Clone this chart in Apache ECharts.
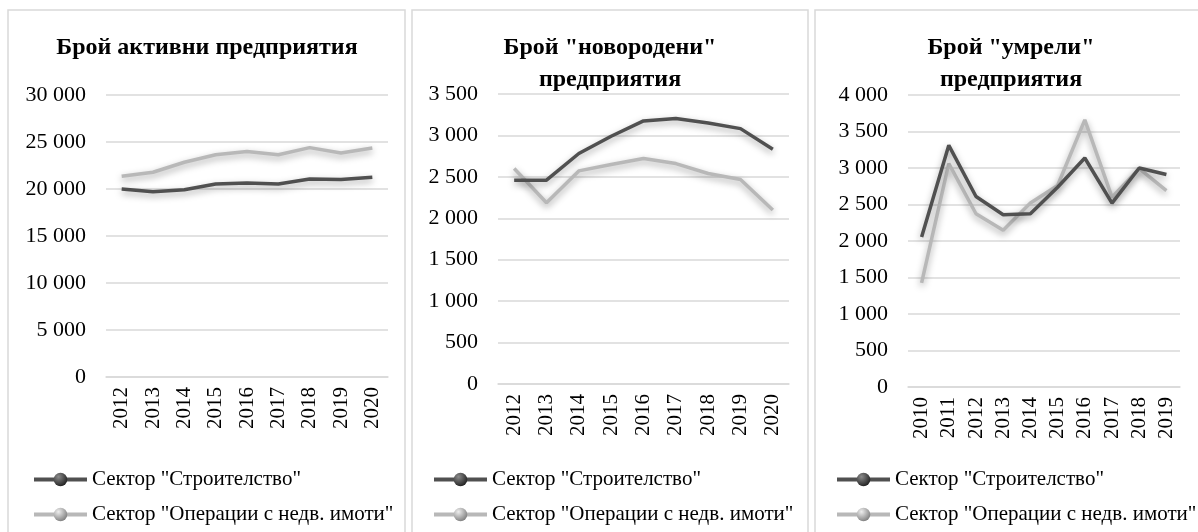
<!DOCTYPE html>
<html>
<head>
<meta charset="utf-8">
<script src="https://cdn.jsdelivr.net/npm/echarts@6/dist/echarts.min.js"></script>
<style>
  html, body { margin: 0; padding: 0; background: #fff; }
  #chart { width: 1198px; height: 532px; }
</style>
</head>
<body>
<div id="chart"></div>
<script>
// panel data
var yearsActive = ['2012', '2013', '2014', '2015', '2016', '2017', '2018', '2019', '2020'];
var activeBuild = [20000, 19710, 19930, 20540, 20640, 20540, 21070, 21000, 21250];
var activeRealty = [21350, 21780, 22850, 23650, 24000, 23650, 24400, 23820, 24360];

var yearsBorn = ['2012', '2013', '2014', '2015', '2016', '2017', '2018', '2019', '2020'];
var bornBuild = [2460, 2460, 2782, 2990, 3175, 3203, 3150, 3082, 2834];
var bornRealty = [2600, 2187, 2572, 2650, 2722, 2660, 2540, 2468, 2100];

var yearsDead = ['2010', '2011', '2012', '2013', '2014', '2015', '2016', '2017', '2018', '2019'];
var deadBuild = [2055, 3310, 2610, 2360, 2373, 2736, 3137, 2518, 3000, 2910];
var deadRealty = [1426, 3060, 2373, 2146, 2520, 2760, 3660, 2600, 2990, 2690];

var seriesNames = ['Сектор "Строителство"', 'Сектор "Операции с недв. имоти"'];
var titles = ['Брой активни предприятия', 'Брой "новородени"\nпредприятия', 'Брой "умрели"\nпредприятия'];

var darkColor = '#505050';
var lightColor = '#b8b8b8';
var font = '"Liberation Serif", "DejaVu Serif", serif';

function sphere(c1, c2) {
    return new echarts.graphic.RadialGradient(0.35, 0.3, 0.7, [
        {offset: 0, color: c1},
        {offset: 1, color: c2}
    ]);
}

function fmt(v) {
    return String(v).replace(/\B(?=(\d{3})+(?!\d))/g, ' ');
}

var panels = [
    {cats: yearsActive, a: activeBuild, b: activeRealty, max: 30000, step: 5000,
     grid: {left: 106, top: 95, width: 282, height: 282}, tx: 207, box: [8, 405], legendX: 32},
    {cats: yearsBorn, a: bornBuild, b: bornRealty, max: 3500, step: 500,
     grid: {left: 498, top: 94, width: 291, height: 290}, tx: 610, box: [412, 808], legendX: 432},
    {cats: yearsDead, a: deadBuild, b: deadRealty, max: 4000, step: 500,
     grid: {left: 908, top: 95, width: 272, height: 292}, tx: 1011, box: [815, 1210], legendX: 835}
];

var option = {
    backgroundColor: '#fff',
    animation: false,
    title: [],
    legend: [],
    grid: [],
    xAxis: [],
    yAxis: [],
    series: [],
    graphic: []
};

panels.forEach(function (p, i) {
    option.graphic.push({
        type: 'rect',
        shape: {x: p.box[0], y: 10, width: p.box[1] - p.box[0], height: 540},
        style: {fill: 'none', stroke: '#d9d9d9', lineWidth: 1.5},
        z: -10
    });
    option.title.push({
        text: titles[i],
        left: p.tx,
        top: 32,
        padding: 0,
        textAlign: 'center',
        textStyle: {fontFamily: font, fontWeight: 'bold', fontSize: 24, color: '#000', lineHeight: 32}
    });
    option.grid.push(p.grid);
    option.xAxis.push({
        type: 'category',
        gridIndex: i,
        data: p.cats,
        boundaryGap: true,
        axisLine: {show: true, lineStyle: {color: '#d9d9d9', width: 1.5}},
        axisTick: {show: false},
        axisLabel: {rotate: 90, margin: 10, color: '#000', fontFamily: font, fontSize: 21, interval: 0}
    });
    option.yAxis.push({
        type: 'value',
        gridIndex: i,
        min: 0,
        max: p.max,
        interval: p.step,
        axisLine: {show: false},
        axisTick: {show: false},
        splitLine: {lineStyle: {color: '#d9d9d9', width: 1.5}},
        axisLabel: {color: '#000', fontFamily: font, fontSize: 22, margin: 20, formatter: fmt}
    });
    option.legend.push({
        data: seriesNames,
        orient: 'vertical',
        left: p.legendX,
        top: 469,
        padding: 0,
        itemWidth: 53,
        itemHeight: 17,
        itemGap: 14,
        lineStyle: {width: 4, shadowBlur: 0},
        textStyle: {fontFamily: font, fontSize: 21, color: '#000'},
        selectedMode: false
    });
    [p.a, p.b].forEach(function (vals, k) {
        option.series.push({
            name: seriesNames[k],
            type: 'line',
            xAxisIndex: i,
            yAxisIndex: i,
            data: vals,
            symbol: 'circle',
            symbolSize: 14,
            showSymbol: false,
            itemStyle: {color: k === 0 ? sphere('#8a8a8a', '#262626') : sphere('#eeeeee', '#858585')},
            lineStyle: {
                color: k === 0 ? darkColor : lightColor,
                width: 3.5,
                shadowBlur: 7,
                shadowColor: 'rgba(0,0,0,0.35)',
                shadowOffsetY: 3
            },
            z: k === 0 ? 3 : 2
        });
    });
});

var chart = echarts.init(document.getElementById('chart'));
chart.setOption(option);
</script>
</body>
</html>
